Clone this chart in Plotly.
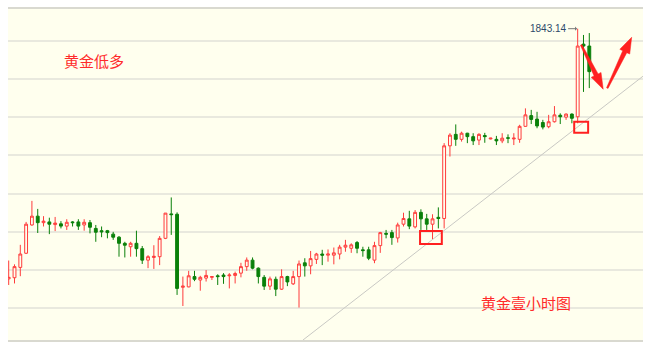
import math
import plotly.graph_objects as go

# ---- data ----
bar_index = list(range(1, 102))

open_ = [1777.7, 1778.0, 1780.7, 1784.4, 1791.8, 1794.1, 1792.4, 1792.6, 1791.9, 1792.1,
         1791.5, 1792.6, 1792.6, 1791.8, 1792.4, 1790.9, 1790.3, 1790.3, 1789.4, 1788.6,
         1787.0, 1786.1, 1787.0, 1785.6, 1782.6, 1783.3, 1783.5, 1788.3, 1794.7, 1794.6,
         1775.5, 1775.6, 1778.3, 1777.4, 1777.9, 1778.1, 1778.5, 1778.7, 1778.5, 1778.6,
         1779.2, 1780.9, 1782.6, 1780.5, 1778.1, 1775.8, 1777.6, 1775.0, 1778.3, 1776.4,
         1778.3, 1781.9, 1781.1, 1782.8, 1784.2, 1783.9, 1783.9, 1784.2, 1786.0, 1785.7,
         1787.2, 1785.3, 1785.3, 1782.6, 1786.4, 1789.6, 1789.8, 1788.4, 1792.0, 1793.4,
         1791.3, 1795.1, 1793.4, 1792.0, 1793.8, 1793.5, 1812.5, 1815.5, 1814.2, 1815.8,
         1814.9, 1814.0, 1815.2, 1814.3, 1814.2, 1813.8, 1814.6, 1814.3, 1814.2, 1817.6,
         1820.4, 1819.5, 1818.6, 1817.5, 1818.8, 1820.5, 1820.0, 1820.8, 1820.1, 1839.1,
         1838.6]
high_ = [1782.5, 1781.5, 1786.6, 1792.6, 1798.1, 1796.0, 1794.1, 1793.7, 1793.9, 1792.8,
         1793.3, 1792.8, 1793.3, 1793.3, 1793.1, 1791.8, 1791.4, 1790.5, 1790.0, 1788.9,
         1787.4, 1787.4, 1790.3, 1786.3, 1783.9, 1786.5, 1788.9, 1794.9, 1799.0, 1795.1,
         1778.3, 1779.8, 1779.8, 1778.5, 1780.0, 1778.4, 1778.9, 1779.2, 1779.2, 1779.6,
         1781.9, 1783.3, 1783.3, 1780.7, 1778.7, 1778.3, 1778.3, 1780.2, 1778.5, 1779.8,
         1782.5, 1783.1, 1785.0, 1784.5, 1785.3, 1785.4, 1785.9, 1786.6, 1787.9, 1787.0,
         1787.6, 1786.1, 1786.1, 1787.4, 1790.0, 1790.5, 1790.5, 1792.4, 1795.0, 1795.5,
         1795.7, 1795.9, 1794.7, 1794.6, 1796.4, 1813.2, 1815.8, 1818.1, 1816.2, 1815.9,
         1815.8, 1815.8, 1815.9, 1814.6, 1815.1, 1815.8, 1815.5, 1815.8, 1818.0, 1822.3,
         1821.9, 1821.4, 1819.3, 1820.6, 1822.9, 1821.0, 1821.0, 1821.0, 1843.14, 1841.5,
         1842.0]
low_ = [1776.1, 1776.5, 1778.4, 1784.2, 1791.6, 1789.7, 1791.4, 1789.4, 1790.2, 1790.9,
        1790.5, 1791.4, 1790.5, 1790.3, 1789.6, 1787.4, 1788.6, 1788.3, 1787.9, 1783.5,
        1783.3, 1783.5, 1783.5, 1781.6, 1780.5, 1780.3, 1781.3, 1788.1, 1789.2, 1773.5,
        1770.6, 1775.5, 1777.1, 1774.6, 1777.0, 1777.4, 1776.1, 1776.4, 1775.2, 1776.5,
        1778.1, 1779.8, 1780.2, 1776.5, 1774.8, 1774.8, 1773.2, 1774.8, 1775.8, 1776.1,
        1770.2, 1778.3, 1778.9, 1781.6, 1781.3, 1782.2, 1781.5, 1782.8, 1784.8, 1784.5,
        1784.4, 1783.5, 1782.6, 1781.8, 1784.5, 1788.3, 1786.6, 1787.2, 1791.4, 1790.7,
        1790.9, 1790.5, 1790.5, 1787.9, 1790.9, 1790.9, 1809.7, 1812.5, 1813.6, 1813.2,
        1812.7, 1812.7, 1813.3, 1814.2, 1812.7, 1813.2, 1813.2, 1812.7, 1813.3, 1817.5,
        1818.2, 1817.1, 1816.8, 1817.1, 1818.6, 1818.2, 1819.3, 1818.4, 1818.4, 1826.6,
        1827.6]
close_ = [1778.1, 1780.9, 1784.2, 1792.0, 1794.1, 1792.4, 1792.8, 1792.0, 1792.3, 1791.5,
          1792.5, 1792.4, 1791.5, 1792.5, 1791.2, 1789.9, 1790.0, 1789.8, 1788.6, 1787.0,
          1786.5, 1787.0, 1785.6, 1782.6, 1783.5, 1783.6, 1788.3, 1794.9, 1794.5, 1775.2,
          1775.8, 1778.5, 1777.6, 1778.1, 1778.6, 1778.3, 1778.3, 1778.3, 1778.7, 1779.1,
          1780.9, 1782.6, 1780.5, 1778.3, 1775.8, 1777.7, 1775.0, 1778.3, 1776.9, 1778.3,
          1781.6, 1781.1, 1783.0, 1784.2, 1783.9, 1784.2, 1784.5, 1786.0, 1786.5, 1786.6,
          1785.7, 1785.1, 1783.1, 1786.4, 1789.8, 1789.4, 1788.5, 1791.8, 1793.5, 1791.5,
          1795.1, 1793.4, 1792.0, 1793.4, 1793.5, 1812.5, 1815.3, 1814.2, 1815.8, 1814.9,
          1813.8, 1815.5, 1814.9, 1814.5, 1813.8, 1814.5, 1814.5, 1814.5, 1817.6, 1820.6,
          1819.4, 1817.7, 1817.4, 1818.8, 1820.6, 1820.1, 1820.8, 1819.7, 1838.6, 1838.6,
          1831.9]

peak_label = "1843.14"
peak_index = 99
peak_value = 1843.14

trend_x = [51.69, 110.3]
trend_y = [1761.71, 1830.77]

# annotation geometry in data units
arrow_down = dict(tail=(99.6, 1838.9), head=(103.4, 1827.3))
arrow_up = dict(tail=(104.1, 1827.6), head=(108.3, 1840.9))
box_low1 = dict(x0=71.85, x1=75.6, y0=1786.8, y1=1790.25)
box_low2 = dict(x0=98.4, x1=100.8, y0=1815.9, y1=1818.8)

X_RANGE = [0.88, 110.25]
Y_RANGE = [1761.71, 1848.29]
W, H = 650, 349
M = dict(l=8, r=7, t=9, b=9)

RED = "#FF3B3B"
GREEN = "#0A800A"
BG = "#FFFFEE"

# pixels per data unit (for building the hand-drawn style arrow outlines)
SX = (W - M["l"] - M["r"]) / (X_RANGE[1] - X_RANGE[0])
SY = (H - M["t"] - M["b"]) / (Y_RANGE[1] - Y_RANGE[0])


def arrow_path(tail, head, w_tail=1.6, w_neck=4.5, w_head=11.0, l_head=16.0):
    tx, ty = tail[0] * SX, -tail[1] * SY
    hx, hy = head[0] * SX, -head[1] * SY
    dx, dy = hx - tx, hy - ty
    L = math.hypot(dx, dy)
    ux, uy = dx / L, dy / L
    nx, ny = -uy, ux
    kx, ky = hx - ux * l_head, hy - uy * l_head
    pts = [
        (tx + nx * w_tail / 2, ty + ny * w_tail / 2),
        (kx + nx * w_neck / 2, ky + ny * w_neck / 2),
        (kx + nx * w_head / 2, ky + ny * w_head / 2),
        (hx, hy),
        (kx - nx * w_head / 2, ky - ny * w_head / 2),
        (kx - nx * w_neck / 2, ky - ny * w_neck / 2),
        (tx - nx * w_tail / 2, ty - ny * w_tail / 2),
    ]
    d = "M" + " L".join(f"{px / SX:.4f},{-py / SY:.4f}" for px, py in pts) + " Z"
    return d


fig = go.Figure()

fig.add_trace(go.Scatter(
    x=trend_x, y=trend_y, mode="lines",
    line=dict(color="#C9C9C4", width=1), hoverinfo="skip", showlegend=False))

fig.add_trace(go.Candlestick(
    x=bar_index, open=open_, high=high_, low=low_, close=close_,
    increasing=dict(line=dict(color=RED, width=1), fillcolor=BG),
    decreasing=dict(line=dict(color=GREEN, width=1), fillcolor=GREEN),
    whiskerwidth=0, hoverinfo="skip", showlegend=False))

annotations = [
    dict(text="黄金低多", xref="paper", yref="paper", x=0.135, y=0.843,
         xanchor="center", yanchor="middle", showarrow=False,
         font=dict(family="Noto Sans CJK SC", size=15, color="#FF2A2A")),
    dict(text="黄金壹小时图", xref="paper", yref="paper", x=0.815, y=0.114,
         xanchor="center", yanchor="middle", showarrow=False,
         font=dict(family="Noto Sans CJK SC", size=15, color="#FF2A2A")),
    dict(text=peak_label, x=peak_index - 0.1, y=peak_value, xref="x", yref="y",
         ax=-29, ay=0, showarrow=True, arrowhead=1, arrowsize=0.7, arrowwidth=1,
         arrowcolor="#777777", font=dict(family="Liberation Sans", size=10, color="#2E4A6A")),
]

shapes = []
for b in (box_low1, box_low2):
    shapes.append(dict(type="rect", xref="x", yref="y", **b,
                       line=dict(color="#FF2020", width=2), fillcolor="rgba(0,0,0,0)"))
for a in (arrow_down, arrow_up):
    shapes.append(dict(type="path", xref="x", yref="y",
                       path=arrow_path(a["tail"], a["head"]),
                       fillcolor="#FF2020", line=dict(color="#FF2020", width=0.5)))

fig.update_layout(
    width=W, height=H,
    margin=M,
    paper_bgcolor="white", plot_bgcolor=BG,
    annotations=annotations, shapes=shapes,
    xaxis=dict(range=X_RANGE, showgrid=False, zeroline=False,
               showticklabels=False, ticks="", rangeslider=dict(visible=False),
               showline=True, mirror=True, linecolor="#D9D9D0", linewidth=2),
    yaxis=dict(range=Y_RANGE, showgrid=True, gridcolor="#E9E9DE",
               gridwidth=1.5, dtick=10, tick0=1760, zeroline=False,
               showticklabels=False, ticks="", showline=False),
)

fig.write_html("out.html")
